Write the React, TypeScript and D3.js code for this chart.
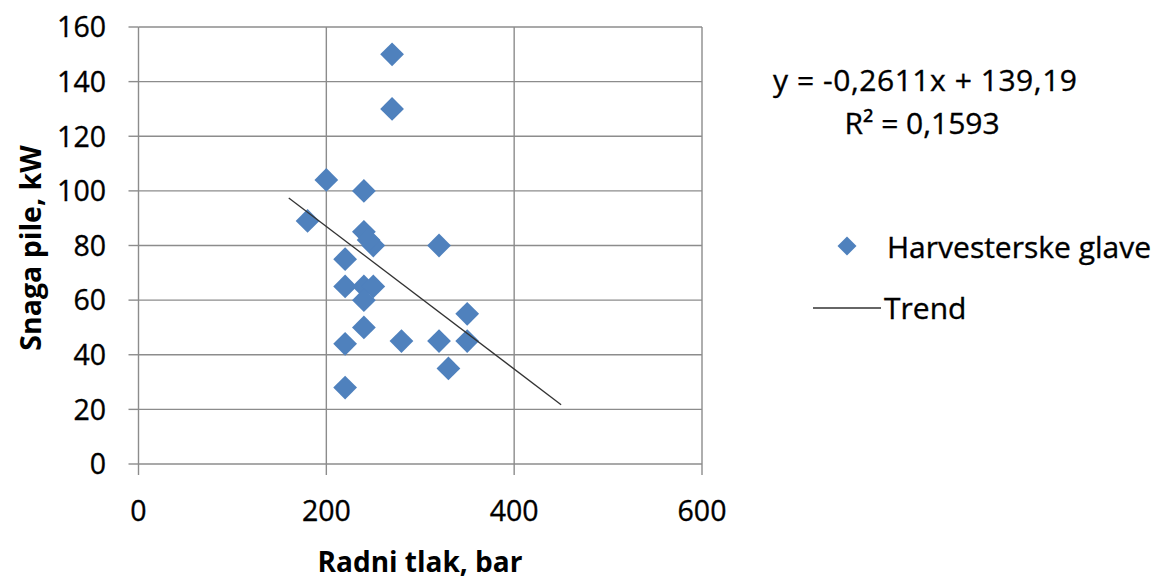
import * as d3 from 'd3';

const W = 1164;
const H = 581;

// Harvesterske glave: radni tlak (bar) vs snaga pile (kW)
const tlak = [270, 270, 200, 240, 180, 240, 250, 245, 320, 220, 220, 240, 250, 240, 350, 240, 220, 280, 320, 350, 330, 220];
const snaga = [150, 130, 104, 100, 89, 85, 80, 82, 80, 75, 65, 65, 65, 60, 55, 50, 44, 45, 45, 45, 35, 28];

const xTicks = [0, 200, 400, 600];
const yTicks = [0, 20, 40, 60, 80, 100, 120, 140, 160];

const trendSlope = -0.2611;
const trendIntercept = 139.19;
const trendRange = [160, 450];

const blue = '#4F81BD';
const grid = '#8c8c8c';
const font = "'Open Sans', 'Noto Sans', sans-serif";

export default function App() {
  const x = d3.scaleLinear().domain([0, 600]).range([138.5, 702]);
  const y = d3.scaleLinear().domain([0, 160]).range([464, 27]);

  const diamond = d3.symbol().type(d3.symbolDiamond2).size(360);
  const legendDiamond = d3.symbol().type(d3.symbolDiamond2).size(230);

  const trendLine = d3
    .line<number>()
    .x((d) => x(d))
    .y((d) => y(trendSlope * d + trendIntercept));

  const points = tlak.map((t, i) => ({ t, s: snaga[i] }));

  const txt = { fontFamily: font, fill: '#000', stroke: '#000', strokeWidth: 0.35 };

  return (
    <div style={{ position: 'absolute', left: 0, top: 0 }}>
      <svg width={W} height={H} style={{ display: 'block', background: '#fff' }}>
        {/* grid */}
        {yTicks.map((t) => (
          <line key={'gy' + t} x1={x(0)} x2={x(600)} y1={y(t)} y2={y(t)} stroke={grid} strokeWidth={1.4} />
        ))}
        {xTicks.map((t) => (
          <line key={'gx' + t} x1={x(t)} x2={x(t)} y1={y(160)} y2={y(0)} stroke={grid} strokeWidth={1.4} />
        ))}
        {/* tick marks */}
        {yTicks.map((t) => (
          <line key={'ty' + t} x1={x(0) - 10} x2={x(0)} y1={y(t)} y2={y(t)} stroke={grid} strokeWidth={1.4} />
        ))}
        {xTicks.map((t) => (
          <line key={'tx' + t} x1={x(t)} x2={x(t)} y1={y(0)} y2={y(0) + 11} stroke={grid} strokeWidth={1.4} />
        ))}
        {/* tick labels */}
        {yTicks.map((t) => (
          <text key={'ly' + t} x={106} y={y(t)} dy="0.36em" textAnchor="end" fontSize={28.5} {...txt}>
            {t}
          </text>
        ))}
        {xTicks.map((t) => (
          <text key={'lx' + t} x={x(t)} y={511} dy="0.36em" textAnchor="middle" fontSize={28.5} {...txt}>
            {t}
          </text>
        ))}
        {/* axis titles */}
        <text x={420} y={562} dy="0.36em" textAnchor="middle" fontSize={28} fontWeight="bold" {...txt} strokeWidth={0}>
          Radni tlak, bar
        </text>
        <text
          transform={`translate(31, 248) rotate(-90)`}
          dy="0.36em"
          textAnchor="middle"
          fontSize={28.5}
          fontWeight="bold"
          {...txt}
          strokeWidth={0}
        >
          Snaga pile, kW
        </text>
        {/* points */}
        {points.map((p, i) => (
          <path key={'p' + i} d={diamond() ?? ''} transform={`translate(${x(p.t)},${y(p.s)})`} fill={blue} />
        ))}
        {/* trend */}
        <path d={trendLine(trendRange) ?? ''} fill="none" stroke="#333" strokeWidth={1.3} />
        {/* equation */}
        <text x={925} y={80} dy="0.36em" textAnchor="middle" fontSize={30} {...txt} textLength={304}>
          y = -0,2611x + 139,19
        </text>
        <text x={922} y={123} dy="0.36em" textAnchor="middle" fontSize={30} {...txt}>
          R² = 0,1593
        </text>
        {/* legend */}
        <path d={legendDiamond() ?? ''} transform="translate(847,246)" fill={blue} />
        <text x={887} y={247} dy="0.36em" fontSize={30} {...txt}>
          Harvesterske glave
        </text>
        <line x1={813} x2={881} y1={308} y2={308} stroke="#333" strokeWidth={1.3} />
        <text x={884} y={308} dy="0.36em" fontSize={30} {...txt}>
          Trend
        </text>
      </svg>
    </div>
  );
}
